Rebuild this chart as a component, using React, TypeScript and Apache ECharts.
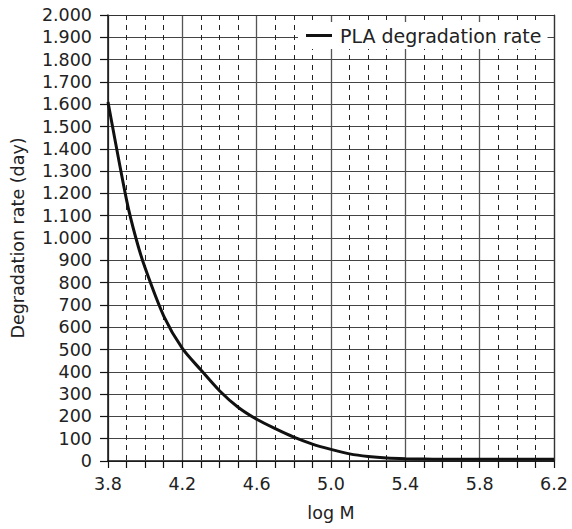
import React, { useEffect, useRef } from "react";
import * as echarts from "echarts";

const logM = [3.8, 3.9, 3.95, 4.0, 4.1, 4.2, 4.3, 4.4, 4.5, 4.6, 4.7, 4.8, 4.9, 5.0, 5.1, 5.2, 5.3, 5.4, 5.5, 5.6, 5.8, 6.0, 6.2];
const rate = [1610, 1170, 1000, 865, 650, 505, 408, 315, 241, 187, 145, 107, 76, 52, 32, 20, 13, 10, 9, 8, 8, 8, 8];
const seriesName = "PLA degradation rate";
const xName = "log M";
const yName = "Degradation rate (day)";

const FONT = "DejaVu Sans";

function fmtY(v: number): string {
  if (v >= 1000) {
    const t = Math.floor(v / 1000);
    const r = v % 1000;
    return `${t}.${String(r).padStart(3, "0")}`;
  }
  return String(v);
}

export default function App() {
  const ref = useRef<HTMLDivElement>(null);
  useEffect(() => {
    if (!ref.current) return;
    const chart = echarts.init(ref.current, undefined, { renderer: "svg" });
    const data = logM.map((x, i) => [x, rate[i]]);
    chart.setOption({
      animation: false,
      backgroundColor: "#fff",
      grid: { left: 108, right: 18, top: 15, bottom: 68, containLabel: false },
      legend: {
        show: true,
        left: 298,
        top: 22,
        padding: [4, 6, 4, 8],
        backgroundColor: "#fff",
        itemWidth: 26,
        itemHeight: 3,
        itemGap: 8,
        icon: "rect",
        textStyle: { fontFamily: FONT, fontSize: 19, color: "#222", padding: [0, 0, 0, 3] },
        data: [seriesName],
      },
      xAxis: [
        {
          type: "value",
          min: 3.8,
          max: 6.2,
          interval: 0.1,
          name: xName,
          nameLocation: "middle",
          nameGap: 43,
          nameTextStyle: { fontFamily: FONT, fontSize: 17.5, color: "#222" },
          axisLine: { show: true, onZero: false, lineStyle: { color: "#111", width: 1.5 } },
          axisTick: { show: true, length: 7, lineStyle: { color: "#111", width: 1.2 } },
          axisLabel: {
            fontFamily: FONT,
            fontSize: 17.5,
            color: "#222",
            margin: 14,
            showMinLabel: true,
            showMaxLabel: true,
            formatter: (v: number) => {
              const k = Math.round((v - 3.8) * 10);
              return k % 4 === 0 ? v.toFixed(1) : "";
            },
          },
          splitLine: { show: true, lineStyle: { color: "#222", width: 1, type: [5, 5] } },
        },
        {
          type: "value",
          position: "top",
          min: 3.8,
          max: 6.2,
          interval: 0.4,
          axisLine: { show: true, onZero: false, lineStyle: { color: "#333", width: 1 } },
          axisTick: { show: false },
          axisLabel: { show: false },
          splitLine: { show: true, lineStyle: { color: "#555", width: 1.3, type: "solid" } },
        },
      ],
      yAxis: [
        {
          type: "value",
          min: 0,
          max: 2000,
          interval: 100,
          name: yName,
          nameLocation: "middle",
          nameGap: 81,
          nameTextStyle: { fontFamily: FONT, fontSize: 17.5, color: "#222" },
          axisLine: { show: true, onZero: false, lineStyle: { color: "#111", width: 1.5 } },
          axisTick: { show: true, length: 8, lineStyle: { color: "#111", width: 1.2 } },
          axisLabel: {
            fontFamily: FONT,
            fontSize: 17.5,
            color: "#222",
            margin: 16,
            formatter: (v: number) => fmtY(v),
          },
          splitLine: { show: true, lineStyle: { color: "#444", width: 1.2 } },
        },
        {
          type: "value",
          position: "right",
          min: 0,
          max: 2000,
          interval: 100,
          axisLine: { show: true, onZero: false, lineStyle: { color: "#333", width: 1.2 } },
          axisTick: { show: false },
          axisLabel: { show: false },
          splitLine: { show: false },
        },
      ],
      series: [
        {
          name: seriesName,
          type: "line",
          data,
          xAxisIndex: 0,
          yAxisIndex: 0,
          smooth: 0.25,
          showSymbol: false,
          symbol: "none",
          lineStyle: { color: "#111", width: 3 },
          itemStyle: { color: "#111" },
          z: 5,
        },
      ],
    });
    return () => chart.dispose();
  }, []);
  return (
    <div
      ref={ref}
      style={{ position: "fixed", left: 0, top: 0, width: 572, height: 529 }}
    />
  );
}
